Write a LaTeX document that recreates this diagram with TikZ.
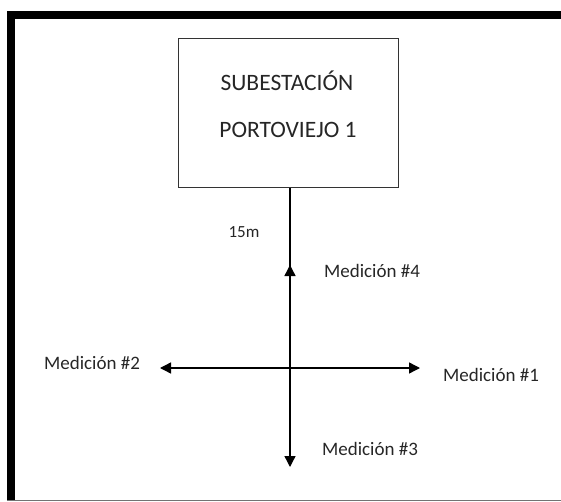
\documentclass[tikz,border=0pt]{standalone}
\usepackage{fontspec}
\setmainfont{Carlito}
\usetikzlibrary{arrows.meta}
\begin{document}
\begin{tikzpicture}[x=1pt,y=-1pt,
  boxstyle/.style={draw=black!80,line width=1pt,minimum width=220pt,minimum height=149pt,inner sep=0pt},
  title/.style={font=\fontsize{23.5}{26}\selectfont,inner sep=0pt,text=black!85},
  lbl/.style={font=\fontsize{19}{22}\selectfont,inner sep=0pt,text=black!85},
  small/.style={font=\fontsize{17}{20}\selectfont,inner sep=0pt,text=black!85},
  conn/.style={line width=1.4pt,draw=black},
  arr/.style={conn,-{Triangle[length=11pt,width=11pt]}}]
\useasboundingbox (0,0) rectangle (561,502);
% outer frame
\fill[black] (7,11) rectangle (561,19);
\fill[black] (7,11) rectangle (15,501);
\draw[black!55,line width=1pt] (7,500.5) -- (561,500.5);
% box
\node[boxstyle] (box) at (288,113.5) {};
\node[title] (t1) at (287,81) {SUBESTACIÓN};
\node[title] (t2) at (288,130) {PORTOVIEJO 1};
% coordinates
\coordinate (c) at (290,368);
\coordinate (up) at (290,265);
\coordinate (dn) at (290,467);
\coordinate (lf) at (160,368);
\coordinate (rt) at (420,368);
\draw[conn] (box.south -| c) -- (c);
\draw[arr] (c) -- (up);
\draw[arr] (c) -- (dn);
\draw[arr] (c) -- (lf);
\draw[arr] (c) -- (rt);
% labels
\node[small] (m15) at (244,232) {15m};
\node[lbl] (m4) at (372,271) {Medición \#4};
\node[lbl] (m3) at (370,449) {Medición \#3};
\node[lbl] (m1) at (491,375) {Medición \#1};
\node[lbl] (m2) at (92,363) {Medición \#2};
\end{tikzpicture}
\end{document}
